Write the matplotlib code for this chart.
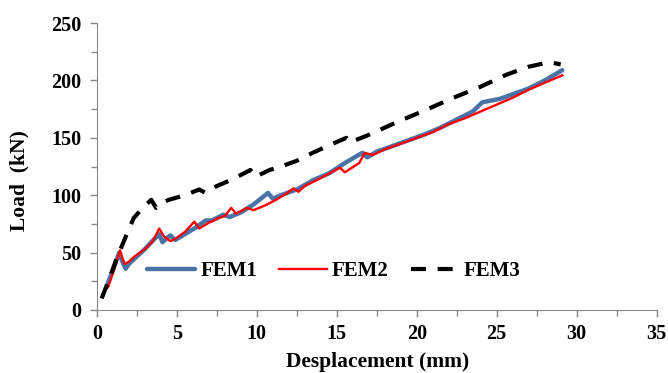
import matplotlib.pyplot as plt

# data
fem1_x = [0.6, 1.0, 1.4, 1.6, 1.8, 2.0, 2.3, 3.0, 3.6, 3.9, 4.1, 4.4, 4.6, 4.9, 5.5, 6.2, 6.8, 7.2,
          7.9, 8.3, 9.0, 9.8, 10.7, 11.0, 11.5, 12.5, 13.5, 14.5, 15.5, 16.6, 16.9, 17.5, 18.5,
          19.5, 20.5, 21.5, 22.5, 23.5, 24.1, 25.2, 26.0, 27.0, 28.0, 29.1]
fem1_y = [20, 35, 50, 42, 36, 40, 44, 53, 62, 66, 59, 63, 65, 61, 66, 72, 78, 78,
          83, 81, 85, 92, 102, 97, 100, 105, 113, 119, 128, 137, 133, 138, 143,
          148, 153, 159, 166, 173, 181, 184, 188, 193, 200, 209]

fem2_x = [0.7, 1.1, 1.45, 1.6, 1.75, 2.0, 2.3, 3.0, 3.5, 3.9, 4.2, 4.6, 4.9, 5.5, 6.1, 6.4, 7.0,
          7.6, 8.0, 8.4, 8.7, 9.4, 9.8, 10.5, 11.2, 11.8, 12.3, 12.6, 13.0, 14.0, 15.2, 15.5,
          16.4, 16.75, 17.25, 18.0, 19.0, 20.0, 21.0, 22.0, 23.0, 24.0, 25.0, 26.0, 27.0,
          28.0, 29.1]
fem2_y = [20, 36, 52, 45, 40, 42, 46, 53, 60, 71, 64, 60, 62, 68, 77, 71, 76,
          80, 82, 89, 84, 89, 87, 91, 96, 101, 106, 103, 108, 115, 124, 120,
          128, 137, 135, 140, 145, 150, 155, 162, 167, 173, 179, 185, 192,
          198, 204.5]

fem3_x = [0.3, 0.8, 1.3, 1.9, 2.3, 2.8, 3.4, 3.7, 4.0, 4.5, 5.5, 6.4, 6.8, 7.5, 8.5, 9.6, 9.9,
          10.8, 11.5, 12.5, 13.5, 14.6, 15.6, 15.8, 16.9, 17.7, 18.8, 20.0, 21.0, 22.3, 23.9,
          25.6, 27.0, 28.3, 29.0]
fem3_y = [10, 28, 47, 67, 80, 88, 96, 89, 93, 96, 100, 105, 102, 108, 114, 122, 116,
          122, 125, 130, 137, 144, 150, 146, 152, 157, 164, 171, 177, 185, 194,
          205, 212, 216, 214]

x_ticks = [0, 5, 10, 15, 20, 25, 30, 35]
y_ticks = [0, 50, 100, 150, 200, 250]

plt.rcParams['font.family'] = ['Liberation Serif', 'DejaVu Serif']
plt.rcParams['font.weight'] = 'bold'

fig = plt.figure(figsize=(6.68, 3.73), dpi=100)
ax = fig.add_axes([0.145, 0.169, 0.838, 0.769])

ax.plot(fem1_x, fem1_y, color='#4a74a8', lw=3.2, label='FEM1', solid_capstyle='round')
ax.plot(fem2_x, fem2_y, color='#ff0000', lw=1.7, label='FEM2')
ax.plot(fem3_x, fem3_y, color='black', lw=3.0, ls=(0, (3.6, 2.8)), label='FEM3')

ax.set_xlim(0, 35)
ax.set_ylim(0, 250)
ax.set_xticks(x_ticks)
ax.set_yticks(y_ticks)
ax.set_xticks([2.5 + 5 * i for i in range(7)], minor=True)
ax.set_yticks([25 + 50 * i for i in range(5)], minor=True)
ax.tick_params(axis='both', which='both', direction='out', color='#888888', width=1)
ax.tick_params(axis='both', which='major', length=5, labelsize=14.5)
ax.tick_params(axis='y', which='major', pad=6)
ax.tick_params(axis='x', which='major', pad=5)
ax.tick_params(axis='both', which='minor', length=4)
for lbl in ax.get_xticklabels() + ax.get_yticklabels():
    lbl.set_fontweight('bold')

for side in ['top', 'right']:
    ax.spines[side].set_visible(False)
for side in ['left', 'bottom']:
    ax.spines[side].set_color('#888888')

ax.set_xlabel('Desplacement (mm)', fontsize=15.5, fontweight='bold')
ax.set_ylabel('Load  (kN)', fontsize=15.5, fontweight='bold')
ax.xaxis.set_label_coords(0.502, -0.145)
ax.yaxis.set_label_coords(-0.12, 0.45)

ax.legend(loc='center left', bbox_to_anchor=(0.09, 0.135), ncol=3, frameon=False,
          prop={'size': 15, 'weight': 'bold'}, handlelength=2.3, columnspacing=1.05,
          handletextpad=0.25, borderpad=0, borderaxespad=0)

fig.savefig('out.png', dpi=100)
